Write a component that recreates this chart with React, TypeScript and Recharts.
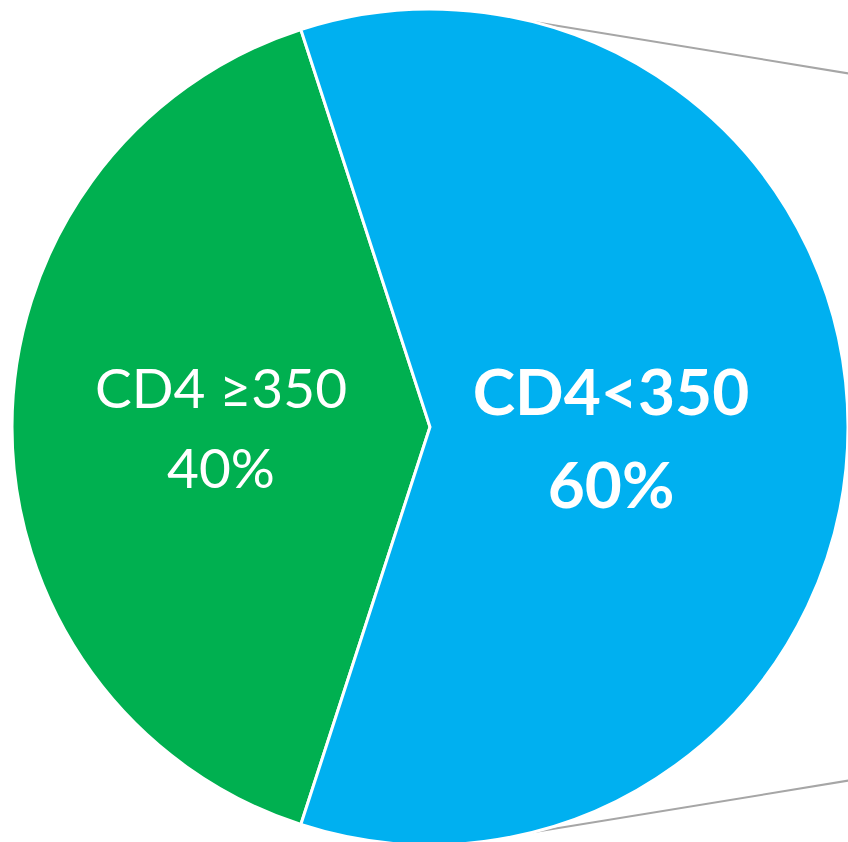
import React from 'react';
import { PieChart, Pie, Cell } from 'recharts';

const categories = ['CD4 ≥350', 'CD4<350'];
const shares = [40, 60];
const colors = ['#00B050', '#00B0F0'];

const W = 848;
const H = 842;
const CX = 430;
const CY = 427;
const R = 418;
const RAD = Math.PI / 180;

const chartData = categories.map((name, i) => ({ name, value: shares[i] }));

// label sits a bit further out in the small slice, like the original
const renderLabel = (props: any) => {
    const { cx, cy, midAngle, outerRadius, index, payload } = props;
    const f = index === 0 ? 0.5 : 0.433;
    const x = cx + outerRadius * f * Math.cos(-midAngle * RAD);
    const y = cy + outerRadius * f * Math.sin(-midAngle * RAD);
    const bold = index === 1;
    const size = bold ? 64 : 55;
    return (
        <text
            x={x}
            y={y}
            fill="#fff"
            textAnchor="middle"
            fontFamily="Lato, 'Open Sans', sans-serif"
            fontWeight={bold ? 700 : 400}
            fontSize={size}
        >
            <tspan x={x} dy={bold ? -12 : -19}>{payload.name}</tspan>
            <tspan x={x} dy={bold ? 93 : 80}>{`${payload.value}%`}</tspan>
        </text>
    );
};

// connector lines toward the (off-page) second pie
function Connectors() {
    const a = 76 * RAD;
    const slope = 0.164;
    const x0 = CX + R * Math.cos(a);
    const yTop = CY - R * Math.sin(a);
    const yBot = CY + R * Math.sin(a);
    const x1 = W + 20;
    return (
        <svg width={W} height={H} style={{ position: 'absolute', left: 0, top: 0 }}>
            <line x1={x0} y1={yTop} x2={x1} y2={yTop + slope * (x1 - x0)} stroke="#A6A6A6" strokeWidth={2} />
            <line x1={x0} y1={yBot} x2={x1} y2={yBot - slope * (x1 - x0)} stroke="#A6A6A6" strokeWidth={2} />
        </svg>
    );
}

export default function App() {
    return (
        <div style={{ position: 'absolute', left: 0, top: 0, width: W, height: H, background: '#fff', overflow: 'hidden' }}>
            <Connectors />
            <div style={{ position: 'absolute', left: 0, top: 0 }}>
                <PieChart width={W} height={H} margin={{ top: 0, right: 0, bottom: 0, left: 0 }}>
                    <Pie
                        data={chartData}
                        dataKey="value"
                        cx={CX}
                        cy={CY}
                        outerRadius={R}
                        startAngle={108}
                        endAngle={468}
                        stroke="#fff"
                        strokeWidth={3}
                        label={renderLabel}
                        labelLine={false}
                        isAnimationActive={false}
                    >
                        {chartData.map((d, i) => (
                            <Cell key={d.name} fill={colors[i]} />
                        ))}
                    </Pie>
                </PieChart>
            </div>
        </div>
    );
}
